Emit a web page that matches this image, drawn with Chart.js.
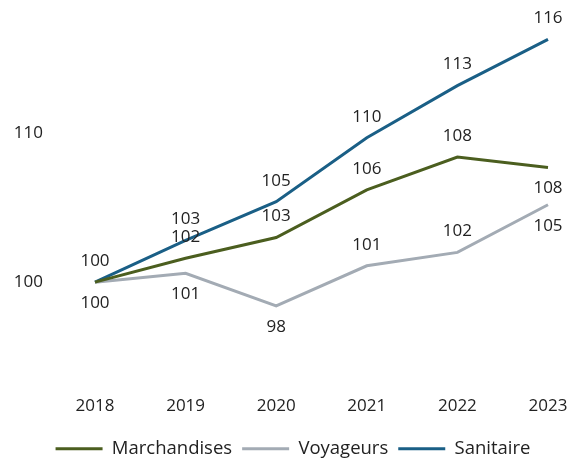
<!DOCTYPE html>
<html>
<head>
<meta charset="utf-8">
<script src="https://cdn.jsdelivr.net/npm/chart.js@4/dist/chart.umd.min.js"></script>
<style>
  html, body { margin: 0; padding: 0; background: #fff; }
  #wrap { width: 574px; height: 461px; }
</style>
</head>
<body>
<div id="wrap"><canvas id="chart"></canvas></div>
<script>
const years = ['2018', '2019', '2020', '2021', '2022', '2023'];
const marchandises = [100, 101.6, 103.0, 106.2, 108.4, 107.7];
const voyageurs = [100, 100.6, 98.4, 101.1, 102.0, 105.2];
const sanitaire = [100, 102.8, 105.4, 109.7, 113.2, 116.3];
const yTicks = [100, 110];

// label placement per point: -1 above, 1 below, 0 none
const placeM = [-1, -1, -1, -1, -1, 1];
const placeV = [1, 1, 1, -1, -1, 1];
const placeS = [0, -1, -1, -1, -1, -1];

const FONT = '"Open Sans", "Noto Sans", sans-serif';

Chart.register({
    id: 'valueLabels',
    afterLayout(chart) {
        // legend sits a bit right of centre in the original
        chart.legend.left += 13;
        chart.legend.right += 13;
    },
    afterDatasetsDraw(chart) {
        const ctx = chart.ctx;
        ctx.save();
        ctx.font = `17px ${FONT}`;
        ctx.fillStyle = '#222';
        ctx.textAlign = 'center';
        ctx.textBaseline = 'middle';
        chart.data.datasets.forEach((ds, i) => {
            const meta = chart.getDatasetMeta(i);
            meta.data.forEach((pt, j) => {
                if (!ds.place[j]) return;
                const y = pt.y + ds.place[j] * 21;
                ctx.fillText(String(Math.round(ds.data[j])), pt.x, y);
            });
        });
        ctx.restore();
    }
});

new Chart(document.getElementById('chart'), {
    type: 'line',
    data: {
        labels: years,
        datasets: [
            { label: 'Marchandises', data: marchandises, borderColor: '#4b5e1f', backgroundColor: '#4b5e1f', borderWidth: 3, place: placeM },
            { label: 'Voyageurs', data: voyageurs, borderColor: '#a3abb4', backgroundColor: '#a3abb4', borderWidth: 3, place: placeV },
            { label: 'Sanitaire', data: sanitaire, borderColor: '#1a5f86', backgroundColor: '#1a5f86', borderWidth: 3, place: placeS }
        ]
    },
    options: {
        responsive: true,
        maintainAspectRatio: false,
        animation: false,
        layout: { padding: { left: 12, right: 26, top: 29, bottom: -7 } },
        elements: {
            line: { tension: 0 },
            point: { radius: 0 }
        },
        scales: {
            x: {
                offset: false,
                grid: { display: false, drawTicks: false },
                border: { display: false },
                afterFit(scale) {
                    scale.height = 58;
                    scale.paddingLeft = 0;
                    scale.paddingRight = 0;
                },
                ticks: { color: '#222', font: { family: FONT, size: 17 }, padding: 24 }
            },
            y: {
                min: 94,
                max: 117,
                grid: { display: false, drawTicks: false },
                border: { display: false },
                afterBuildTicks(scale) { scale.ticks = yTicks.map(v => ({ value: v })); },
                afterFit(scale) {
                    scale.width = 83;
                    scale.paddingTop = 0;
                    scale.paddingBottom = 0;
                },
                ticks: { color: '#222', font: { family: FONT, size: 17 }, padding: 52 }
            }
        },
        plugins: {
            tooltip: { enabled: false },
            legend: {
                position: 'bottom',
                labels: {
                    color: '#222',
                    font: { family: FONT, size: 18.5 },
                    usePointStyle: true,
                    pointStyle: 'line',
                    pointStyleWidth: 47,
                    padding: 10
                }
            }
        }
    }
});
</script>
</body>
</html>
